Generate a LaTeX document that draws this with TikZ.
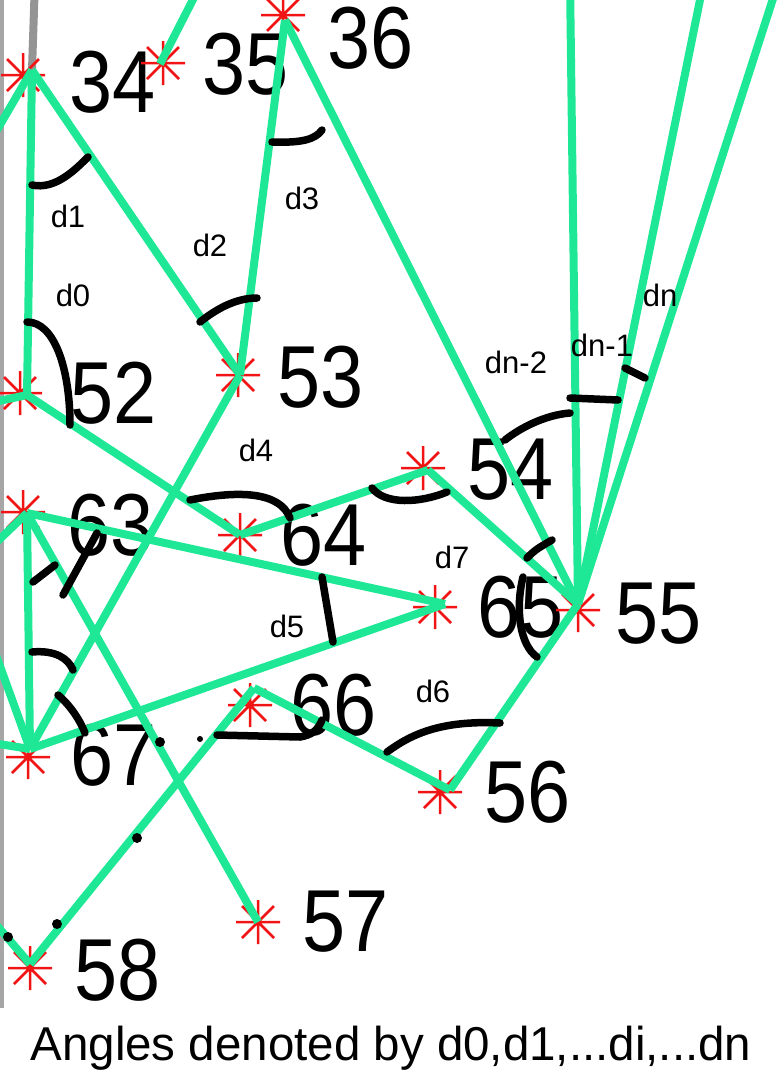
\documentclass[tikz,border=0pt]{standalone}
\usepackage{fontspec}
\setmainfont{Liberation Sans}
\newfontfamily\bignum[FakeStretch=0.88]{Liberation Sans}
\usetikzlibrary{positioning}

\definecolor{edgegreen}{RGB}{30,232,150}
\definecolor{markred}{RGB}{240,20,20}

\newcommand{\redstar}[1]{\draw[starline] #1 +(-22,0) -- +(22,0) +(0,-22) -- +(0,22) +(-16,-16) -- +(16,16) +(-16,16) -- +(16,-16);}

\tikzset{
  edge/.style={draw=edgegreen,line width=8pt},
  greyedge/.style={draw=black!42,line width=8pt},
  starline/.style={draw=markred,line width=2.5pt},
  anglemark/.style={draw=black,line width=7.5pt,line cap=round},
  num/.style={font=\bignum\fontsize{88}{88}\selectfont,inner sep=0pt},
  dlab/.style={font=\fontsize{31}{31}\selectfont,inner sep=0pt},
}

\begin{document}
\begin{tikzpicture}[x=1pt,y=-1pt]
      \useasboundingbox (0,0) rectangle (782,1074);
      \clip (0,0) rectangle (782,1074);

      \coordinate (34) at (32,70);
      \coordinate (35) at (160,64);
      \coordinate (36) at (285,20);
      \coordinate (52) at (27,395);
      \coordinate (53) at (240,375);
      \coordinate (54) at (428,470);
      \coordinate (55) at (578,604);
      \coordinate (56) at (450,790);
      \coordinate (57) at (258,922);
      \coordinate (58) at (30,964);
      \coordinate (63) at (27,513);
      \coordinate (64) at (240,535);
      \coordinate (65) at (445,604);
      \coordinate (66) at (254,688);
      \coordinate (67) at (30,749);

      %% ends outside the frame
      \coordinate (g34) at (35,-20);
      \coordinate (o34) at (-20,159);
      \coordinate (o35) at (203,-20);
      \coordinate (o52) at (-20,405);
      \coordinate (o63) at (-20,558);
      \coordinate (o67a) at (-20,611);
      \coordinate (o67b) at (-20,741);
      \coordinate (o58) at (-20,906);
      \coordinate (o55a) at (570,-20);
      \coordinate (o55b) at (704,-20);
      \coordinate (o55c) at (779,-20);

      \node[num,right=37pt of 34,yshift=-12pt] (n34) {34};
      \node[num,right=42pt of 35] (n35) {35};
      \node[num,right=42pt of 36,yshift=-18pt] (n36) {36};
      \node[num,right=43pt of 52,yshift=2pt] (n52) {52};
      \node[num,right=37pt of 53,yshift=-2pt] (n53) {53};
      \node[num,right=39pt of 54] (n54) {54};
      \node[num,right=37pt of 55,yshift=-10pt] (n55) {55};
      \node[num,right=34pt of 56,yshift=-2pt] (n56) {56};
      \node[num,right=44pt of 57] (n57) {57};
      \node[num,right=44pt of 58,yshift=-6pt] (n58) {58};
      \node[num,right=40pt of 63,yshift=-12pt] (n63) {63};
      \node[num,right=40pt of 64] (n64) {64};
      \node[num,right=32pt of 65,yshift=-3pt] (n65) {65};
      \node[num,right=36pt of 66,yshift=-17pt] (n66) {66};
      \node[num,right=40pt of 67,yshift=-6pt] (n67) {67};

      \node[font=\fontsize{47.5}{48}\selectfont,anchor=base] (caption) at (391,1060) {Angles denoted by d0,d1,...di,...dn};

      \fill[black!35] (0,0) rectangle (4,1008);
      \draw[greyedge] (34) -- (g34);

      \redstar{(34) ++(-9,5)}
      \redstar{(35) ++(3,-1)}
      \redstar{(36) ++(-2,-5)}
      \redstar{(52) ++(-7,-2)}
      \redstar{(53) ++(-2,0)}
      \redstar{(54) ++(-5,-2)}
      \redstar{(55) ++(0,6)}
      \redstar{(56) ++(-10,2)}
      \redstar{(57)}
      \redstar{(58) ++(0,4)}
      \redstar{(63) ++(-4,-1)}
      \redstar{(64)}
      \redstar{(65) ++(-10,3)}
      \redstar{(66) ++(-4,17)}
      \redstar{(67) ++(-2,8)}

      \draw[edge] (34) -- (o34);
      \draw[edge] (34) -- (52);
      \draw[edge] (34) -- (53);
      \draw[edge] (35) -- (o35);
      \draw[edge] (36) -- (53);
      \draw[edge] (36) -- (55);
      \draw[edge] (52) -- (o52);
      \draw[edge] (52) -- (64);
      \draw[edge] (53) -- (67);
      \draw[edge] (64) -- (54);
      \draw[edge] (54) -- (55);
      \draw[edge] (55) -- (o55a);
      \draw[edge] (55) -- (o55b);
      \draw[edge] (55) -- (o55c);
      \draw[edge] (55) -- (56);
      \draw[edge] (56) -- (66);
      \draw[edge] (66) -- (58);
      \draw[edge] (58) -- (o58);
      \draw[edge] (63) -- (o63);
      \draw[edge] (63) -- (65);
      \draw[edge] (63) -- (67);
      \draw[edge] (63) -- (57);
      \draw[edge] (65) -- (67);
      \draw[edge] (67) -- (o67a);
      \draw[edge] (67) -- (o67b);

      \node[dlab] (d0) at (73,295) {d0};
      \node[dlab] (d1) at (68,216) {d1};
      \node[dlab] (d2) at (210,245) {d2};
      \node[dlab] (d3) at (302,198) {d3};
      \node[dlab] (d4) at (256,450) {d4};
      \node[dlab] (d5) at (287,626) {d5};
      \node[dlab] (d6) at (433,691) {d6};
      \node[dlab] (d7) at (452,557) {d7};
      \node[dlab] (dn2) at (516,362) {dn-2};
      \node[dlab] (dn1) at (602,345) {dn-1};
      \node[dlab] (dn) at (660,295) {dn};

      %% angle marks
      \draw[anglemark] (32,185) .. controls (55,190) and (75,170) .. (88,157);
      \draw[anglemark] (27,322) .. controls (55,322) and (70,370) .. (70,425);
      \draw[anglemark] (200,322) .. controls (215,310) and (235,298) .. (257,298);
      \draw[anglemark] (272,142) .. controls (300,143) and (315,140) .. (322,130);
      \draw[anglemark] (190,500) .. controls (240,490) and (280,492) .. (290,518);
      \draw[anglemark] (372,488) .. controls (385,505) and (420,503) .. (447,492);
      \draw[anglemark] (527,558) .. controls (535,550) .. (552,540);
      \draw[anglemark] (523,577) .. controls (515,610) and (520,645) .. (537,657);
      \draw[anglemark] (505,440) .. controls (520,428) and (545,415) .. (570,413);
      \draw[anglemark] (570,398) -- (618,400);
      \draw[anglemark] (625,368) -- (645,378);
      \draw[anglemark] (387,752) .. controls (410,735) and (440,720) .. (500,723);
      \draw[anglemark] (322,577) -- (333,642);
      \draw[anglemark] (217,735) -- (300,737) .. controls (312,735) and (318,730) .. (322,720);
      \draw[anglemark] (33,582) -- (55,565);
      \draw[anglemark] (63,595) -- (97,533);
      \draw[anglemark] (32,652) .. controls (55,650) and (68,658) .. (73,670);
      \draw[anglemark] (58,695) .. controls (70,705) and (80,720) .. (85,733);
      \fill (160,742) circle (5);
      \fill (200,739) circle (3);
      \fill (137,838) circle (5);
      \fill (57,924) circle (5);
      \fill (8,937) circle (5);
\end{tikzpicture}
\end{document}
